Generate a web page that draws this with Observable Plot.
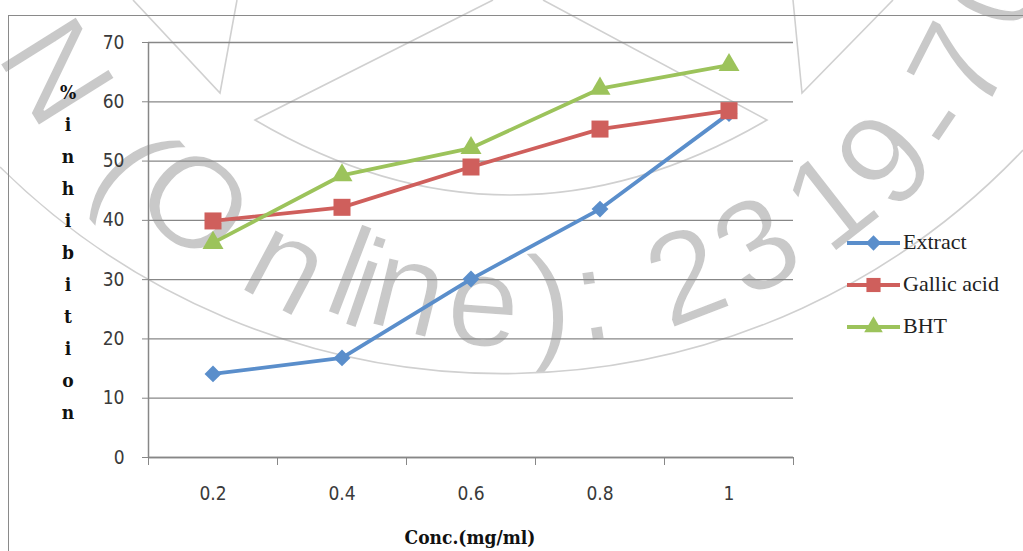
<!DOCTYPE html>
<html><head><meta charset="utf-8">
<script src="https://cdn.jsdelivr.net/npm/d3@7"></script>
<script src="https://cdn.jsdelivr.net/npm/@observablehq/plot@0.6"></script>
<style>
body{margin:0;background:#fff;}
#wrap{position:relative;width:1023px;height:551px;overflow:hidden;background:#fff;}
#frame{position:absolute;left:8px;top:15px;width:1100px;height:600px;border-top:1.5px solid #8a8a8a;border-left:1.5px solid #8a8a8a;}
#ytitle{position:absolute;left:46px;width:44px;top:76px;text-align:center;font-family:"DejaVu Serif Condensed","DejaVu Serif",serif;font-weight:bold;font-size:19px;line-height:32px;color:#111;}
#xtitle{position:absolute;left:270px;width:400px;top:526px;text-align:center;font-family:"DejaVu Serif Condensed","DejaVu Serif",serif;font-weight:bold;font-size:19px;color:#111;}
#legend{position:absolute;left:847px;top:229px;font-family:"Liberation Serif","Times New Roman",serif;font-size:22px;color:#222;}
.li{height:42px;display:flex;align-items:flex-start;}
.li svg{margin-top:3px;}
.li span{margin-left:3px;line-height:26px;}
</style></head><body><div id="wrap"></div>
<script>
const concentrations = [0.2, 0.4, 0.6, 0.8, 1.0];
const concLabels = ["0.2", "0.4", "0.6", "0.8", "1"];
const extractValues = [14.1, 16.8, 30.1, 41.9, 58.0];
const gallicValues = [39.9, 42.2, 49.0, 55.4, 58.5];
const bhtValues = [36.2, 47.6, 52.2, 62.2, 66.2];
const seriesNames = ["Extract", "Gallic acid", "BHT"];
const seriesColors = ["#5a8ecb", "#cf5f5c", "#9cc35b"];
const seriesSymbols = ["diamond2", "square", "triangle"];
const yTicks = [0, 10, 20, 30, 40, 50, 60, 70];
const categoryEdges = [0.1, 0.3, 0.5, 0.7, 0.9, 1.1];
const yTitle = "%inhibition";
const xTitle = "Conc.(mg/ml)";

// watermark glyphs (decoration): char, centre x, centre y, rotation, vertical centre (em)
const wmChars = ["N", "(", "O", "n", "l", "i", "n", "e", ")", ":", "2", "3", "1", "9", "-", "7", "0"];
const wmX = [59, 128, 197, 283, 350, 366, 407, 483, 550, 593, 685, 755, 828, 883, 940, 957, 992];
const wmY = [70, 172, 201, 273, 270, 282, 298, 312, 312, 306, 273, 243, 198, 158, 123, 65, -14];
const wmRot = [58, 49, 42, 28, 21, 19, 14, 4, -4, -9, -21, -30, -38, -49, -56, -63, -70];
const wmVC = [0.36, 0.26, 0.36, 0.26, 0.36, 0.36, 0.26, 0.26, 0.26, 0.26, 0.36, 0.36, 0.36, 0.36, 0.3, 0.36, 0.36];

const wrap = document.getElementById("wrap");

// watermark underlay
const wm = d3.select("#wrap").append("svg")
  .attr("width", 1023).attr("height", 551)
  .style("position", "absolute").style("left", "0px").style("top", "0px");
const wmSize = 130;
wmChars.forEach((c, i) => {
  wm.append("text")
    .attr("transform", `translate(${wmX[i]},${wmY[i]}) rotate(${wmRot[i]})`)
    .attr("y", wmVC[i] * wmSize)
    .attr("text-anchor", "middle")
    .attr("font-family", "'Liberation Sans',Arial,sans-serif")
    .attr("font-size", wmSize)
    .attr("fill", "#c9c9c9").attr("stroke", "#fff").attr("stroke-width", 1.5)
    .text(c);
});
const thin = ["M133,0 L220,93 L237,0", "M493,0 L255,120 Q510,270 767,120 L543,0", "M793,0 L802,93 L893,0", "M0,167 A716,716 0 0 0 1023,150"];
thin.forEach(d => wm.append("path").attr("d", d).attr("fill", "none").attr("stroke", "#d0d0d0").attr("stroke-width", 1.6));

const frame = document.createElement("div");
frame.id = "frame";
wrap.appendChild(frame);

const allValues = [extractValues, gallicValues, bhtValues];
const rows = [];
allValues.forEach((vals, s) => vals.forEach((v, i) => rows.push({series: seriesNames[s], conc: concentrations[i], value: v})));

const grid = "#878787";
const dotR = [7.6, 9.6, 7.8];

const chart = Plot.plot({
  width: 1023, height: 551,
  marginLeft: 148, marginRight: 230, marginTop: 42, marginBottom: 94,
  x: {domain: [0.1, 1.1]},
  y: {domain: [0, 70]},
  style: {fontFamily: "'Liberation Sans Narrow','DejaVu Sans Condensed','Liberation Sans',sans-serif", fontSize: "19px", color: "#3a3a3a", background: "transparent", overflow: "visible"},
  marks: [
    Plot.gridY(yTicks, {stroke: grid, strokeOpacity: 1, strokeWidth: 1.3}),
    Plot.ruleX([0.1], {stroke: grid, strokeWidth: 1.5}),
    Plot.ruleY([0], {stroke: grid, strokeWidth: 1.5}),
    Plot.axisY(yTicks, {tickSize: 6, tickPadding: 18, stroke: grid, label: null}),
    Plot.axisX(categoryEdges, {tickSize: 8, tickFormat: () => "", stroke: grid, label: null}),
    Plot.axisX(concentrations, {tickSize: 0, tickPadding: 29, tickFormat: d => concLabels[concentrations.indexOf(d)], label: null}),
    ...seriesNames.map((name, s) => Plot.line(rows.filter(r => r.series === name), {x: "conc", y: "value", stroke: seriesColors[s], strokeWidth: 3.8})),
    ...seriesNames.map((name, s) => Plot.dot(rows.filter(r => r.series === name), {x: "conc", y: "value", symbol: () => seriesSymbols[s], fill: seriesColors[s], r: dotR[s]}))
  ]
});
chart.style.position = "absolute";
chart.style.left = "0px";
chart.style.top = "0px";
wrap.appendChild(chart);

// axis titles
const yt = document.createElement("div");
yt.id = "ytitle";
yt.innerHTML = [...yTitle].map(c => `<div>${c}</div>`).join("");
wrap.appendChild(yt);
const xt = document.createElement("div");
xt.id = "xtitle";
xt.textContent = xTitle;
wrap.appendChild(xt);

// legend
const legend = document.createElement("div");
legend.id = "legend";
const legendSize = [150, 200, 150];
seriesNames.forEach((name, s) => {
  const item = document.createElement("div");
  item.className = "li";
  const sym = {diamond2: d3.symbolDiamond2, square: d3.symbolSquare, triangle: d3.symbolTriangle}[seriesSymbols[s]];
  const path = d3.symbol(sym, legendSize[s])();
  item.innerHTML = `<svg width="53" height="22"><line x1="0" x2="53" y1="11" y2="11" stroke="${seriesColors[s]}" stroke-width="3.8"/><path transform="translate(26.5,11)" d="${path}" fill="${seriesColors[s]}"/></svg><span>${name}</span>`;
  legend.appendChild(item);
});
wrap.appendChild(legend);
</script>
</body></html>
